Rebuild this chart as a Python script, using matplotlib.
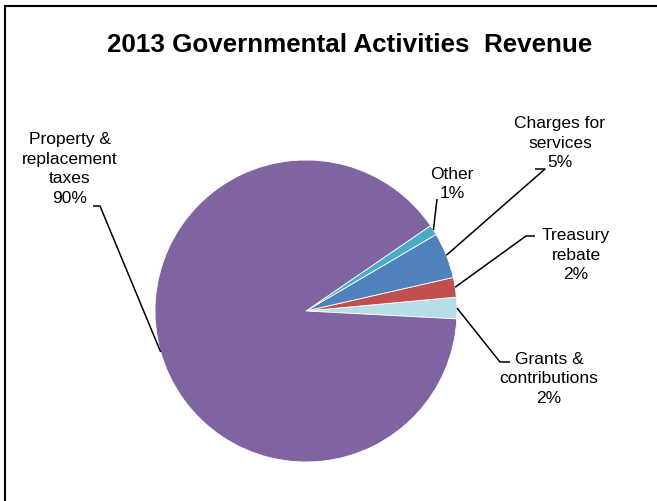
import numpy as np
import matplotlib.pyplot as plt
from matplotlib.patches import Rectangle

plt.rcParams['font.family'] = ['Liberation Sans', 'DejaVu Sans']

# revenue shares, counter-clockwise from just below 3 o'clock
labels = ['Grants &\ncontributions', 'Treasury\nrebate', 'Charges for\nservices',
          'Other', 'Property &\nreplacement\ntaxes']
shares = [2.3, 2.1, 4.9, 1.1, 89.6]
colors = ['#B7DEE8', '#C0504D', '#4F81BD', '#4BACC6', '#8064A2']

W, H = 657, 502
fig = plt.figure(figsize=(W / 100, H / 100), dpi=100)
ax = fig.add_axes([0, 0, 1, 1])


def px(x, y):
    return x, H - y


cx, cy = px(306, 312)
r = 151
wedges, _ = ax.pie(shares, colors=colors, startangle=-3, counterclock=True,
                   center=(cx, cy), radius=r, frame=True,
                   wedgeprops=dict(linewidth=0.6, edgecolor='white'))
ax.set_xlim(0, W)
ax.set_ylim(0, H)
ax.set_aspect('equal')
ax.axis('off')

# text position, elbow and end of the leader line (pixels), per slice
layout = [
    dict(text=(549, 379), elbow=(500, 363), end=(510, 363)),
    dict(text=(576, 255), elbow=(526, 237), end=(535, 237)),
    dict(text=(560, 143), elbow=(545, 170), end=(535, 170)),
    dict(text=(452, 184), elbow=None, end=(437, 200)),
    dict(text=(70, 169), elbow=(100, 207), end=(93, 207)),
]

total = sum(shares)
for w, lab, val, lay in zip(wedges, labels, shares, layout):
    mid = np.deg2rad((w.theta1 + w.theta2) / 2)
    pts = [(cx + r * np.cos(mid), cy + r * np.sin(mid))]
    if lay['elbow'] is not None:
        pts.append(px(*lay['elbow']))
    pts.append(px(*lay['end']))
    xs, ys = zip(*pts)
    ax.plot(xs, ys, color='black', linewidth=1.1, solid_capstyle='butt')
    tx, ty = px(*lay['text'])
    ax.text(tx, ty, f'{lab}\n{val / total * 100:.0f}%', ha='center', va='center',
            fontsize=12.5, linespacing=1.38, color='black')

ax.text(*px(350, 45), '2013 Governmental Activities  Revenue', ha='center',
        va='center', fontsize=18.7, fontweight='bold')

# chart frame, running off the right and bottom edges
fig.patches.append(Rectangle((5 / W, -0.1), 1.1, (H - 7) / H + 0.1,
                             transform=fig.transFigure, fill=False,
                             edgecolor='black', linewidth=1.5))

fig.savefig('out.png', dpi=100)
